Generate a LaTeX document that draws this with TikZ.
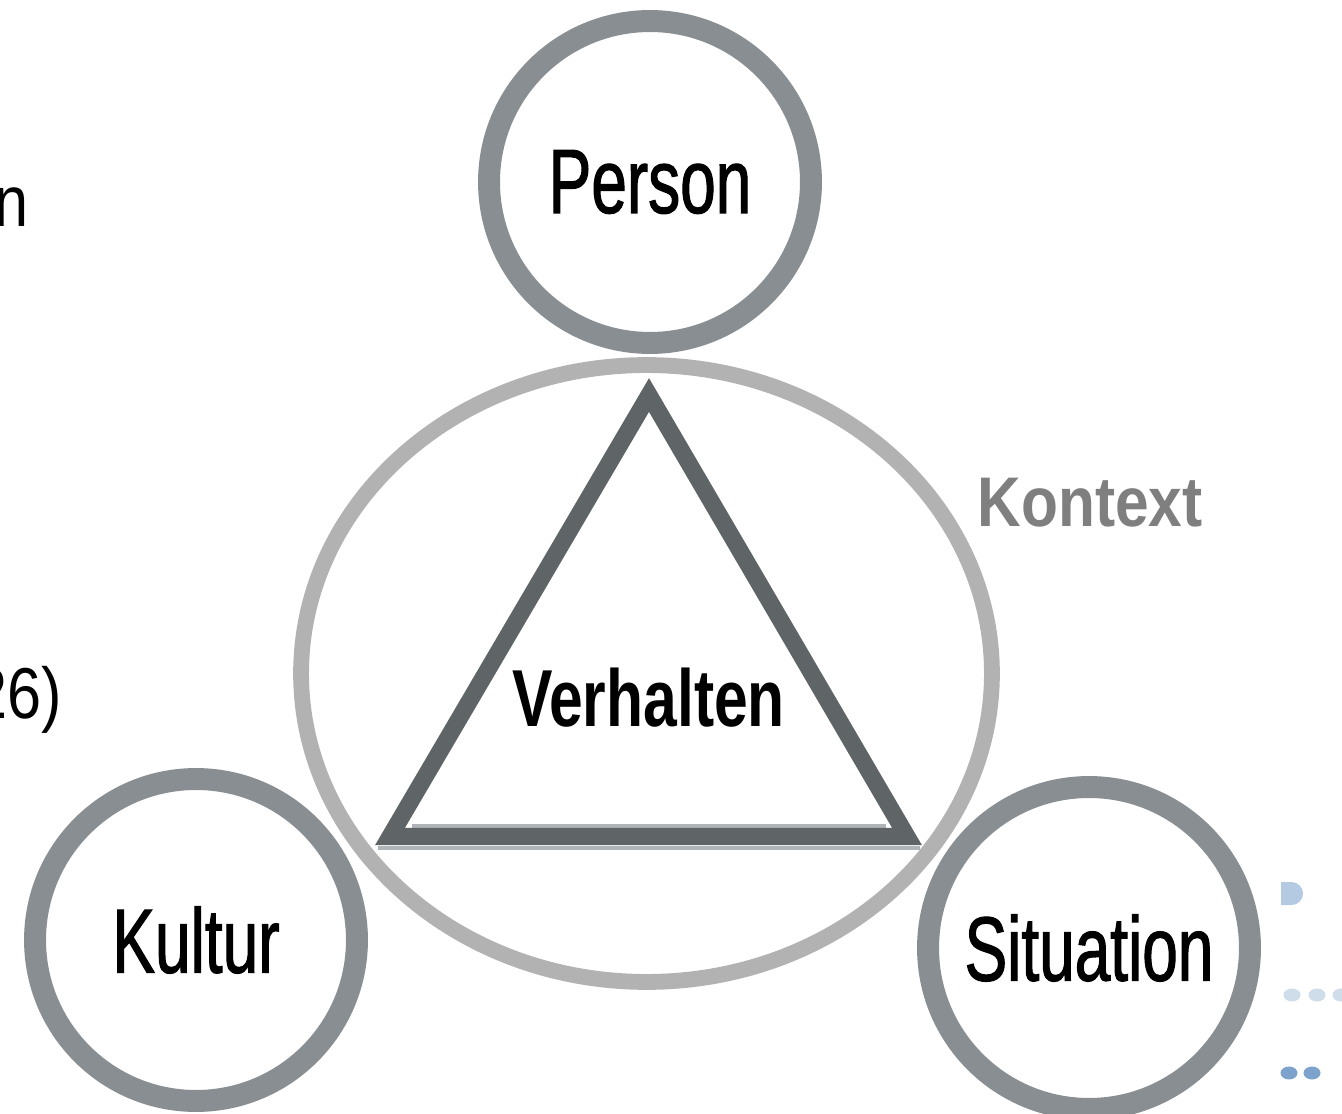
\documentclass[tikz,border=0pt]{standalone}
\usepackage{fontspec}
\setmainfont{Liberation Sans}
\newfontfamily\ringfont[FakeStretch=0.7,FakeBold=1.2]{Liberation Sans}
\newfontfamily\narrowfont[FakeStretch=0.75]{Liberation Sans}
\newfontfamily\kontextfont[FakeStretch=0.86]{Liberation Sans}
\newfontfamily\cutfont[FakeStretch=0.85]{Liberation Sans}
\usetikzlibrary{shapes.geometric, positioning}

\definecolor{ringgrey}{HTML}{898E92}
\definecolor{ctxgrey}{HTML}{B2B2B2}
\definecolor{trigrey}{HTML}{5F6466}
\definecolor{edgegrey}{HTML}{B0B4B6}
\definecolor{labelgrey}{HTML}{7F7F7F}
\definecolor{dotlight}{HTML}{CFDCEA}
\definecolor{dotmid}{HTML}{B4C9E2}
\definecolor{dotdark}{HTML}{7DA2CC}

\begin{document}
\begin{tikzpicture}[
    x=0.02cm, y=-0.02cm,
    ring/.style={circle, draw=ringgrey, line width=12.5pt, minimum size=6.44cm, inner sep=0pt, font=\ringfont\fontsize{52}{52}\selectfont},
    context/.style={ellipse, draw=ctxgrey, line width=9pt, minimum width=13.82cm, minimum height=12.34cm, inner sep=0pt},
    core/.style={draw=trigrey, line width=9.7pt, line join=miter},
    core edge/.style={draw=edgegrey, line width=1.8pt},
    center label/.style={inner sep=0pt, font=\narrowfont\bfseries\fontsize{46}{46}\selectfont},
    side label/.style={inner sep=0pt, text=labelgrey, font=\kontextfont\bfseries\fontsize{40}{40}\selectfont},
    cut text/.style={inner sep=0pt, anchor=base east, font=\cutfont\fontsize{41}{41}\selectfont}
]

    \useasboundingbox (0,0) rectangle (1342,1114);
    \clip (0,0) rectangle (1342,1114);

    % Kontext
    \node [context] (ctx) at (646.5,673.5) {};
    \node [side label] (kontext) at (1090,503) {Kontext};

    % Verhalten triangle
    \coordinate (apex) at (649,395);
    \coordinate (left corner) at (390,836.5);
    \coordinate (right corner) at (907,836.5);
    \draw [core edge] (378,848) -- (920,848);
    \draw [core edge] (412,826) -- (886,826);
    \draw [core] (apex) -- (right corner) -- (left corner) -- cycle;
    \node [center label] (verhalten) at (648.5,698) {Verhalten};

    % Rings
    \node [ring] (person) at (650,182) {Person};
    \node [ring] (kultur) at (196,940) {Kultur};
    \node [ring] (situation) at (1089,948) {Situation};

    % Cut-off text at the left edge
    \node [cut text] (cut n) at (29,227) {n};
    \node [cut text] (cut 26) at (62,718) {26)};

    % Slide dots at the right edge
    \fill [dotmid] (1281,882) -- (1291.5,882) arc [start angle=-90, end angle=90, radius=11.5] -- (1281,905) -- cycle;
    \foreach \x in {1292,1317,1341}
        \fill [dotlight] (\x,995) ellipse [x radius=8.5, y radius=6.5];
    \foreach \x in {1289,1312}
        \fill [dotdark] (\x,1073) ellipse [x radius=8.5, y radius=6.5];

\end{tikzpicture}
\end{document}
